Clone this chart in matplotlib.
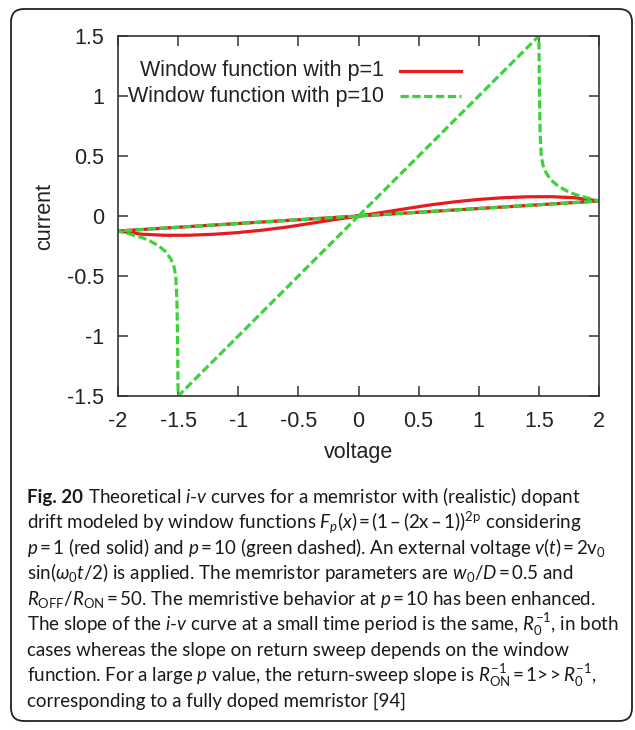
import matplotlib
matplotlib.use('Agg')
import matplotlib.pyplot as plt
from matplotlib.patches import FancyBboxPatch
from matplotlib.ticker import FuncFormatter

plt.rcParams['font.family'] = ['Liberation Sans', 'DejaVu Sans']
plt.rcParams['axes.unicode_minus'] = False
plt.rcParams['mathtext.fontset'] = 'custom'
plt.rcParams['mathtext.rm'] = 'Lato'
plt.rcParams['mathtext.it'] = 'Lato:italic'
plt.rcParams['mathtext.bf'] = 'Lato:bold'

# p = 1 : forward hump (0 -> 2), straight return (2 -> -2), lower hump (-2 -> 0)
red_v = [0.0, 0.2, 0.4, 0.6, 0.8, 1.0, 1.2, 1.4, 1.6, 1.8, 2.0,
         -2.0,
         -1.8, -1.6, -1.4, -1.2, -1.0, -0.8, -0.6, -0.4, -0.2, 0.0]
red_i = [0.0, 0.03, 0.062, 0.093, 0.118, 0.138, 0.152, 0.16, 0.161, 0.152, 0.125,
         -0.125,
         -0.152, -0.161, -0.16, -0.152, -0.138, -0.118, -0.093, -0.062, -0.03, 0.0]

# p = 10 : steep rise, collapse near 1.5, return line, mirrored on the negative side
green_v = [0.0, 1.5, 1.505, 1.51, 1.52, 1.535, 1.56, 1.6, 1.66, 1.73, 1.8, 1.87, 1.94, 2.0,
           -2.0, -1.94, -1.87, -1.8, -1.73, -1.66, -1.6, -1.56, -1.535, -1.52, -1.51, -1.505,
           -1.5, 0.0]
green_i = [0.0, 1.5, 1.0, 0.7, 0.5, 0.42, 0.36, 0.3, 0.25, 0.21, 0.18, 0.16, 0.14, 0.125,
           -0.125, -0.14, -0.16, -0.18, -0.21, -0.25, -0.3, -0.36, -0.42, -0.5, -0.7, -1.0,
           -1.5, 0.0]

legend_labels = ['Window function with p=1', 'Window function with p=10']
x_ticks = [-2, -1.5, -1, -0.5, 0, 0.5, 1, 1.5, 2]
y_ticks = [-1.5, -1, -0.5, 0, 0.5, 1, 1.5]

T = '\u2009'  # thin space
EQ = T + '=' + T
caption_head = 'Fig. 20'
caption_lines = [
    r'Theoretical $i$-$v$ curves for a memristor with (realistic) dopant',
    r'drift modeled by window functions $F_p(x)$' + EQ + '(1' + T + '–' + T + '(2x' + T + '–' + T + r'1))$^{\mathrm{2p}}$ considering',
    r'$p$' + EQ + r'1 (red solid) and $p$' + EQ + r'10 (green dashed). An external voltage $v(t)$' + EQ + r'2$\mathrm{v}_0$',
    r'sin($\omega_0 t$/2) is applied. The memristor parameters are $w_0$/$D$' + EQ + '0.5 and',
    r'$R_{\mathrm{OFF}}$/$R_{\mathrm{ON}}$' + EQ + r'50. The memristive behavior at $p$' + EQ + '10 has been enhanced.',
    r'The slope of the $i$-$v$ curve at a small time period is the same, $R_0^{-1}$, in both',
    r'cases whereas the slope on return sweep depends on the window',
    r'function. For a large $p$ value, the return-sweep slope is $R_{\mathrm{ON}}^{-1}$' + EQ + '1>' + T + '>' + T + r'$R_0^{-1}$,',
    r'corresponding to a fully doped memristor [94]',
]

RED = '#e8191f'
GREEN = '#3cd23c'
TXT = '#222222'
FS = 15.5
CAP_FS = 13.5
CAP_FONT = ['Lato', 'DejaVu Sans']

fig = plt.figure(figsize=(6.35, 7.30), dpi=100)
fig.patch.set_facecolor('white')

ax = fig.add_axes([118 / 635, 1 - 396 / 730, 481 / 635, 360 / 730])
ax.plot(red_v, red_i, color=RED, lw=2.3, solid_joinstyle='round')
ax.plot(green_v, green_i, color=GREEN, lw=2.3, dashes=(2.6, 1.1))

ax.set_xlim(-2, 2)
ax.set_ylim(-1.5, 1.5)
ax.set_xticks(x_ticks)
ax.set_yticks(y_ticks)
fmt = FuncFormatter(lambda v, pos: '%g' % v)
ax.xaxis.set_major_formatter(fmt)
ax.yaxis.set_major_formatter(fmt)
ax.tick_params(direction='in', length=7, width=1.1, color='#333333',
               top=True, right=True, labelsize=FS, labelcolor=TXT)
ax.tick_params(axis='x', pad=11)
ax.tick_params(axis='y', pad=10)
for s in ax.spines.values():
    s.set_color('#333333')
    s.set_linewidth(1.2)

ax.set_xlabel('voltage', fontsize=FS, color=TXT, va='center')
ax.xaxis.set_label_coords(0.5, -0.157)
ax.set_ylabel('current', fontsize=FS, color=TXT, va='center')
ax.yaxis.set_label_coords(-0.152, 0.5)

# gnuplot-style key: right-aligned text with sample line
for row, (label, color) in enumerate(zip(legend_labels, [RED, GREEN])):
    y = 0.903 - 0.07 * row
    ax.text(0.553, y, label, transform=ax.transAxes, ha='right', va='center',
            fontsize=FS, color=TXT)
    if row == 0:
        ax.plot([0.586, 0.713], [y, y], transform=ax.transAxes, color=color, lw=2.3)
    else:
        ax.plot([0.586, 0.713], [y, y], transform=ax.transAxes, color=color, lw=2.3,
                dashes=(2.6, 1.1))

# caption: bold head, then the lines
x0 = 27 / 635
head = fig.text(x0, 1 - 503 / 730, caption_head, ha='left', va='baseline',
                fontsize=CAP_FS, family=CAP_FONT, weight='bold', color='#1a1a1a')
fig.canvas.draw()
bb = head.get_window_extent(renderer=fig.canvas.get_renderer())
head_end = bb.x1 / fig.bbox.width + 4.5 / 635

for k, line in enumerate(caption_lines):
    fig.text(head_end if k == 0 else x0, 1 - (503 + 25.5 * k) / 730, line,
             ha='left', va='baseline', fontsize=CAP_FS, family=CAP_FONT,
             color='#1a1a1a')

border = FancyBboxPatch((0.11, 0.09), 6.21, 7.12,
                        boxstyle='round,pad=0,rounding_size=0.13',
                        transform=fig.dpi_scale_trans, fill=False,
                        lw=1.3, ec='#222222')
fig.add_artist(border)

fig.savefig('out.png', dpi=100, facecolor='white')
